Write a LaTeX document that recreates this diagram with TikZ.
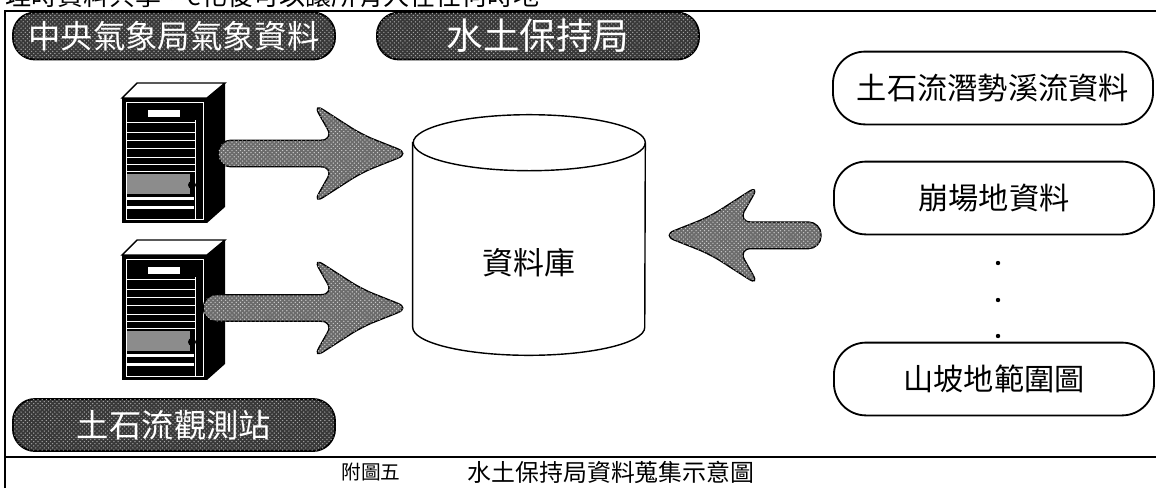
\documentclass[tikz,border=0pt]{standalone}
\usepackage{fontspec}
\setmainfont{Noto Sans CJK TC}
\usetikzlibrary{calc,patterns}

\tikzset{
  srcbox/.style={draw, line width=1.3pt, rounded corners=0.8cm, minimum width=8cm, minimum height=1.82cm, inner sep=0pt, font=\fontsize{21.5pt}{24pt}\selectfont},
  tagpill/.style={draw, line width=1.3pt, rounded corners=0.55cm, fill=black!78, text=white, inner sep=0pt, minimum width=8.05cm, postaction={pattern=crosshatch dots, pattern color=black!35}},
  fatbody/.style={fill=black!58, draw=black, line width=0.9pt, rounded corners=9pt, postaction={pattern=crosshatch dots, pattern color=white!80!black}},
  srvface/.style={fill=black, inner sep=0pt, minimum width=2.125cm, minimum height=3.125cm},
  server/.pic={
    \draw[fill=white, line width=1pt] (0,0) -- (15,-15) -- (103,-15) -- (85,0) -- cycle;
    \fill (85,0) -- (103,-15) -- (103,109) -- (85,125) -- cycle;
    \node[srvface] (-face) at (42.5,62.5) {};
    \draw[white, line width=0.5pt] (4,4) rectangle (81,121);
    \fill[white] (26,12) rectangle (58,19);
    \draw[white, line width=0.6pt] (4,24) -- (73,24) (4,34) -- (73,34) (4,42) -- (73,42) (4,50) -- (73,50) (4,59) -- (73,59) (4,66) -- (73,66) (4,73) -- (73,73);
    \draw[white, line width=0.6pt] (73,22) -- (73,121);
    \fill[black!45] (5,76) rectangle (68,96);
    \fill[black] (70,87) circle (4);
    \fill[white] (5,99) rectangle (72,102);
    \fill[white] (5,108) rectangle (72,111);
  }
}

% fat arrow from tail #1 to tip #2 (horizontal, either way)
\newcommand\fatarrow[2]{%
  \path[fatbody] let \p1=#1, \p2=#2, \n1={ifthenelse(\x2>\x1,1,-1)} in
    (\x1,{\y1+9.5pt}) -- ({\x2-(\n1)*54pt},{\y1+9.5pt}) -- ({\x2-(\n1)*69pt},{\y1+36pt})
    -- ({\x2-(\n1)*34pt},{\y1+13.5pt}) -- (\x2,\y1)
    -- ({\x2-(\n1)*34pt},{\y1-13.5pt}) -- ({\x2-(\n1)*69pt},{\y1-36pt})
    -- ({\x2-(\n1)*54pt},{\y1-9.5pt}) -- (\x1,{\y1-9.5pt}) -- cycle;}

\begin{document}
\begin{tikzpicture}[x=0.025cm, y=-0.025cm]
\useasboundingbox (0,0) rectangle (1156,488);

% frame
\draw[line width=0.8pt] (5,488) -- (5,11) -- (1156,11);
\draw[line width=0.8pt] (5,457) -- (1156,457);
\node[anchor=west, inner sep=0pt, font=\fontsize{18.5pt}{20pt}\selectfont] (intro) at (5,-4) {理時資料共享，e化後可以讓所有人在任何時地};

% sources on the left
\node[tagpill, minimum height=1.175cm, font=\fontsize{23pt}{25pt}\selectfont] (cwb) at (174,36) {中央氣象局氣象資料};
\node[tagpill, minimum height=1.175cm, font=\fontsize{26pt}{28pt}\selectfont] (swcb) at (538,36) {水土保持局};
\node[tagpill, minimum height=1.3cm, font=\fontsize{23pt}{25pt}\selectfont] (station) at (174,425) {土石流觀測站};

\pic (srvA) at (122,98) {server};
\pic (srvB) at (122,255) {server};

% database
\node[minimum width=5.8cm, minimum height=4.6cm, inner sep=0pt] (db) at (529,235) {};
\draw[line width=1pt, fill=white] (db.north west) -- (db.south west) arc[start angle=180, end angle=360, x radius=2.9cm, y radius=0.7cm] -- (db.north east) arc[start angle=0, end angle=180, x radius=2.9cm, y radius=0.7cm] -- cycle;
\draw[line width=1pt] (db.north east) arc[start angle=0, end angle=-180, x radius=2.9cm, y radius=0.7cm];
\node[font=\fontsize{22pt}{24pt}\selectfont] (dbname) at ($(db.center)+(0,28)$) {資料庫};

% data on the right
\node[srcbox] (debrisflow) at (993,88) {土石流潛勢溪流資料};
\node[srcbox] (landslide) at (994,198) {崩場地資料};
\node[srcbox] (slopeland) at (994,379) {山坡地範圍圖};
\fill (998,263) circle (2.2);
\fill (998,300) circle (2.2);
\fill (998,336) circle (2.2);

% arrows
\coordinate (tailA) at ($(srvA-face.east)+(11,-7)$);
\coordinate (tailB) at ($(srvB-face.east)+(-4,-9.5)$);
\coordinate (tailC) at ($(landslide.south west)+(-12,0)$);
\fatarrow{(tailA)}{($(db.west)+(-3,0)$)}
\fatarrow{(tailB)}{($(db.west)+(-3,0)$)}
\fatarrow{(tailC)}{($(db.east)+(17,0)$)}

% caption
\node[font=\fontsize{14pt}{16pt}\selectfont] (figno) at (371,472) {附圖五};
\node[font=\fontsize{17pt}{19pt}\selectfont] (figtitle) at (611,472) {水土保持局資料蒐集示意圖};
\end{tikzpicture}
\end{document}
